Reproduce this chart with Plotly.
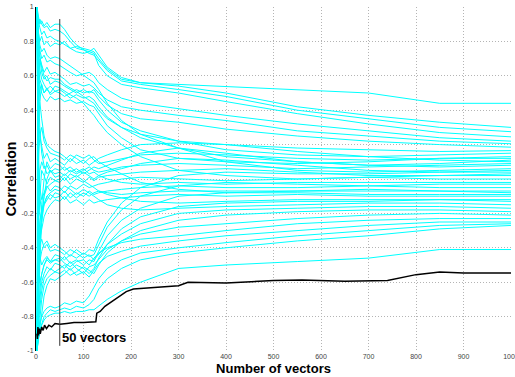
import plotly.graph_objects as go

# Shared sample positions (number of vectors)
X_SAMPLES = [2, 3, 5, 8, 12, 17, 23, 30, 40, 50, 60, 72, 85, 100, 112, 122, 132,
             150, 180, 220, 300, 400, 550, 700, 850, 1000]

# Upper cluster
U1 = [1.0, 0.95, 0.92, 0.88, 0.84, 0.86, 0.82, 0.83, 0.81, 0.80, 0.78, 0.76, 0.77, 0.76, 0.75, 0.74, 0.70, 0.64, 0.58, 0.56, 0.55, 0.54, 0.52, 0.50, 0.44, 0.44]
U2 = [1.0, 0.97, 0.90, 0.93, 0.90, 0.88, 0.89, 0.86, 0.87, 0.86, 0.84, 0.80, 0.76, 0.75, 0.74, 0.76, 0.72, 0.65, 0.59, 0.56, 0.54, 0.50, 0.42, 0.37, 0.33, 0.30]
U3 = [1.0, 0.98, 0.94, 0.90, 0.92, 0.89, 0.91, 0.88, 0.90, 0.90, 0.87, 0.82, 0.78, 0.75, 0.73, 0.72, 0.69, 0.63, 0.57, 0.55, 0.52, 0.48, 0.40, 0.35, 0.30, 0.275]
U4 = [1.0, 0.90, 0.85, 0.80, 0.83, 0.78, 0.80, 0.77, 0.79, 0.78, 0.80, 0.76, 0.74, 0.73, 0.74, 0.73, 0.66, 0.60, 0.55, 0.53, 0.50, 0.45, 0.38, 0.32, 0.27, 0.245]
U5 = [1.0, 0.93, 0.82, 0.75, 0.70, 0.72, 0.68, 0.69, 0.67, 0.66, 0.64, 0.62, 0.60, 0.61, 0.62, 0.60, 0.56, 0.52, 0.47, 0.44, 0.41, 0.37, 0.32, 0.28, 0.24, 0.22]
U6 = [1.0, 0.85, 0.78, 0.70, 0.66, 0.62, 0.65, 0.61, 0.62, 0.60, 0.58, 0.55, 0.56, 0.54, 0.55, 0.53, 0.50, 0.46, 0.42, 0.40, 0.37, 0.34, 0.28, 0.25, 0.22, 0.205]
U7 = [-1.0, 0.2, 0.55, 0.70, 0.62, 0.58, 0.60, 0.55, 0.57, 0.56, 0.54, 0.52, 0.50, 0.52, 0.50, 0.52, 0.48, 0.43, 0.38, 0.35, 0.33, 0.29, 0.25, 0.22, 0.20, 0.185]
U8 = [1.0, 0.88, 0.72, 0.64, 0.58, 0.55, 0.52, 0.54, 0.51, 0.52, 0.50, 0.47, 0.49, 0.47, 0.48, 0.46, 0.42, 0.36, 0.30, 0.26, 0.22, 0.20, 0.18, 0.17, 0.16, 0.165]
U9 = [1.0, 0.80, 0.66, 0.58, 0.54, 0.50, 0.53, 0.49, 0.51, 0.50, 0.48, 0.50, 0.52, 0.50, 0.51, 0.50, 0.46, 0.40, 0.33, 0.28, 0.22, 0.17, 0.14, 0.13, 0.14, 0.15]
U10 = [1.0, 0.75, 0.60, 0.55, 0.50, 0.47, 0.45, 0.48, 0.46, 0.47, 0.45, 0.46, 0.44, 0.45, 0.43, 0.42, 0.38, 0.31, 0.24, 0.17, 0.12, 0.10, 0.09, 0.10, 0.12, 0.13]
U11 = [1.0, 0.92, 0.80, 0.72, 0.65, 0.60, 0.57, 0.59, 0.58, 0.58, 0.55, 0.53, 0.51, 0.48, 0.46, 0.44, 0.40, 0.35, 0.30, 0.24, 0.18, 0.13, 0.10, 0.08, 0.09, 0.11]
U12 = [1.0, 0.94, 0.86, 0.78, 0.74, 0.76, 0.72, 0.70, 0.71, 0.70, 0.68, 0.66, 0.63, 0.60, 0.58, 0.56, 0.52, 0.44, 0.34, 0.26, 0.18, 0.10, 0.05, 0.04, 0.05, 0.06]
U13 = [-1.0, -0.3, 0.3, 0.45, 0.55, 0.50, 0.52, 0.50, 0.54, 0.53, 0.51, 0.49, 0.47, 0.44, 0.40, 0.37, 0.33, 0.27, 0.20, 0.13, 0.05, 0.02, 0.00, 0.01, 0.02, 0.03]

# Middle cluster
M1 = [1.0, 0.6, 0.35, 0.25, 0.18, 0.12, 0.15, 0.10, 0.12, 0.10, 0.08, 0.12, 0.09, 0.11, 0.08, 0.10, 0.12, 0.14, 0.17, 0.20, 0.21, 0.20, 0.16, 0.13, 0.11, 0.10]
M2 = [-1.0, -0.6, -0.2, 0.05, 0.10, 0.06, 0.08, 0.04, 0.06, 0.05, 0.07, 0.04, 0.06, 0.03, 0.05, 0.07, 0.06, 0.08, 0.11, 0.15, 0.18, 0.15, 0.10, 0.08, 0.07, 0.08]
M3 = [1.0, 0.85, 0.5, 0.3, 0.15, 0.08, 0.03, 0.05, 0.01, 0.02, -0.01, 0.03, 0.01, 0.04, 0.02, 0.00, 0.02, 0.04, 0.06, 0.09, 0.12, 0.11, 0.08, 0.05, 0.04, 0.05]
M4 = [-1.0, -0.85, -0.55, -0.35, -0.2, -0.1, -0.05, -0.03, -0.01, -0.02, 0.01, -0.03, 0.00, -0.02, 0.01, -0.01, 0.01, 0.02, 0.03, 0.04, 0.05, 0.06, 0.04, 0.02, 0.02, 0.02]
M5 = [1.0, 0.4, 0.1, -0.05, -0.12, -0.08, -0.04, -0.07, -0.04, -0.05, -0.08, -0.04, -0.06, -0.03, -0.05, -0.04, -0.03, -0.02, 0.00, 0.01, 0.00, -0.01, 0.00, 0.01, 0.00, 0.00]
M6 = [-1.0, -0.9, -0.7, -0.4, -0.15, 0.0, 0.10, 0.06, 0.09, 0.08, 0.05, 0.07, 0.04, 0.06, 0.03, 0.04, 0.02, 0.00, -0.02, -0.03, -0.02, -0.03, -0.02, -0.02, -0.02, -0.02]
M7 = [1.0, 0.7, 0.2, -0.1, -0.2, -0.15, -0.12, -0.09, -0.11, -0.10, -0.07, -0.11, -0.08, -0.10, -0.07, -0.09, -0.08, -0.07, -0.06, -0.05, -0.04, -0.05, -0.05, -0.04, -0.05, -0.05]
M8 = [-1.0, -0.4, 0.1, 0.25, 0.3, 0.22, 0.18, 0.15, 0.14, 0.13, 0.11, 0.14, 0.12, 0.09, 0.12, 0.13, 0.10, 0.07, 0.03, -0.02, -0.06, -0.08, -0.07, -0.06, -0.07, -0.08]
M9 = [1.0, 0.3, -0.2, -0.35, -0.3, -0.22, -0.18, -0.15, -0.12, -0.13, -0.10, -0.14, -0.12, -0.15, -0.12, -0.14, -0.13, -0.12, -0.11, -0.10, -0.09, -0.10, -0.09, -0.10, -0.10, -0.10]
M10 = [-1.0, -0.7, -0.3, -0.1, 0.05, 0.02, -0.03, 0.01, -0.01, 0.00, 0.03, 0.00, 0.02, -0.01, -0.03, -0.05, -0.07, -0.09, -0.11, -0.13, -0.14, -0.13, -0.12, -0.12, -0.12, -0.12]
M11 = [1.0, 0.5, 0.0, -0.2, -0.25, -0.15, -0.10, -0.08, -0.06, -0.07, -0.04, -0.06, -0.09, -0.06, -0.08, -0.10, -0.12, -0.15, -0.17, -0.18, -0.17, -0.16, -0.15, -0.14, -0.14, -0.15]
M12 = [-1.0, -0.95, -0.8, -0.5, -0.25, -0.1, 0.0, 0.05, 0.03, 0.04, 0.02, 0.05, 0.03, 0.05, 0.07, 0.05, 0.04, 0.05, 0.07, 0.08, 0.09, 0.08, 0.06, 0.07, 0.08, 0.09]
M13 = [1.0, 0.9, 0.6, 0.45, 0.35, 0.25, 0.20, 0.18, 0.16, 0.15, 0.13, 0.10, 0.14, 0.12, 0.14, 0.11, 0.09, 0.10, 0.12, 0.14, 0.15, 0.14, 0.12, 0.11, 0.12, 0.12]
M14 = [-1.0, -0.5, -0.35, -0.25, -0.18, -0.14, -0.10, -0.12, -0.08, -0.09, -0.12, -0.08, -0.11, -0.08, -0.10, -0.08, -0.07, -0.08, -0.09, -0.08, -0.07, -0.07, -0.07, -0.07, -0.07, -0.07]

# Lower cluster
B1 = [-1.0, -0.9, -0.8, -0.65, -0.55, -0.5, -0.46, -0.48, -0.44, -0.45, -0.47, -0.44, -0.46, -0.43, -0.45, -0.44, -0.38, -0.28, -0.18, -0.10, -0.04, -0.02, -0.03, -0.04, -0.03, -0.03]
B2 = [1.0, 0.2, -0.4, -0.6, -0.55, -0.5, -0.47, -0.49, -0.47, -0.48, -0.45, -0.49, -0.47, -0.50, -0.47, -0.48, -0.42, -0.33, -0.24, -0.17, -0.10, -0.08, -0.08, -0.09, -0.09, -0.09]
B3 = [-1.0, -0.95, -0.85, -0.75, -0.65, -0.58, -0.55, -0.52, -0.54, -0.52, -0.50, -0.53, -0.50, -0.52, -0.55, -0.52, -0.46, -0.38, -0.29, -0.22, -0.16, -0.14, -0.13, -0.13, -0.12, -0.13]
B4 = [-1.0, -0.7, -0.5, -0.38, -0.35, -0.4, -0.38, -0.42, -0.41, -0.42, -0.44, -0.41, -0.43, -0.46, -0.44, -0.47, -0.44, -0.38, -0.32, -0.26, -0.20, -0.18, -0.17, -0.16, -0.16, -0.17]
B5 = [-1.0, -0.97, -0.9, -0.8, -0.7, -0.62, -0.58, -0.56, -0.54, -0.55, -0.53, -0.56, -0.54, -0.51, -0.53, -0.55, -0.50, -0.43, -0.36, -0.30, -0.24, -0.21, -0.19, -0.18, -0.18, -0.19]
B6 = [-1.0, -0.92, -0.82, -0.7, -0.6, -0.55, -0.51, -0.53, -0.49, -0.50, -0.52, -0.48, -0.52, -0.55, -0.51, -0.50, -0.47, -0.41, -0.36, -0.32, -0.28, -0.26, -0.23, -0.21, -0.20, -0.21]
B7 = [1.0, 0.5, -0.2, -0.45, -0.5, -0.47, -0.45, -0.48, -0.47, -0.46, -0.49, -0.51, -0.48, -0.47, -0.50, -0.46, -0.43, -0.40, -0.37, -0.35, -0.33, -0.30, -0.26, -0.24, -0.23, -0.23]
B8 = [-1.0, -0.98, -0.94, -0.88, -0.78, -0.68, -0.62, -0.58, -0.59, -0.57, -0.55, -0.52, -0.56, -0.54, -0.57, -0.53, -0.49, -0.45, -0.42, -0.39, -0.36, -0.33, -0.30, -0.27, -0.25, -0.25]
B9 = [-1.0, -0.8, -0.6, -0.48, -0.42, -0.38, -0.36, -0.40, -0.38, -0.40, -0.42, -0.45, -0.41, -0.44, -0.41, -0.42, -0.35, -0.25, -0.14, -0.05, 0.02, 0.04, 0.03, 0.03, 0.04, 0.04]

# Lowest cyan group
L1 = [-1.0, -0.95, -0.92, -0.9, -0.85, -0.82, -0.8, -0.79, -0.78, -0.78, -0.77, -0.78, -0.77, -0.77, -0.76, -0.76, -0.74, -0.70, -0.65, -0.60, -0.52, -0.50, -0.48, -0.46, -0.41, -0.41]
L2 = [-1.0, -0.97, -0.93, -0.88, -0.84, -0.80, -0.78, -0.76, -0.77, -0.76, -0.75, -0.76, -0.74, -0.75, -0.73, -0.70, -0.64, -0.58, -0.52, -0.47, -0.43, -0.40, -0.36, -0.33, -0.29, -0.27]
L3 = [-1.0, -0.92, -0.88, -0.84, -0.8, -0.77, -0.75, -0.74, -0.75, -0.74, -0.72, -0.73, -0.71, -0.72, -0.68, -0.63, -0.58, -0.52, -0.47, -0.43, -0.40, -0.37, -0.33, -0.30, -0.27, -0.26]

CYAN_SERIES = [U1, U2, U3, U4, U5, U6, U7, U8, U9, U10, U11, U12, U13,
               M1, M2, M3, M4, M5, M6, M7, M8, M9, M10, M11, M12, M13, M14,
               B1, B2, B3, B4, B5, B6, B7, B8, B9, L1, L2, L3]

# Highlighted (black) series
BLACK_X = [2, 3, 4, 5, 7, 9, 12, 15, 18, 22, 27, 33, 40, 50, 65, 80, 100, 115, 126, 128,
           135, 145, 160, 175, 190, 205, 250, 300, 320, 400, 500, 560, 650, 740, 800, 850, 900, 1000]
BLACK_Y = [-0.90, -0.93, -0.86, -0.91, -0.87, -0.90, -0.86, -0.88, -0.85, -0.87, -0.85, -0.86, -0.84,
           -0.845, -0.84, -0.835, -0.835, -0.83, -0.83, -0.78, -0.77, -0.74, -0.71, -0.68, -0.655,
           -0.64, -0.63, -0.62, -0.60, -0.605, -0.59, -0.587, -0.594, -0.59, -0.556, -0.54, -0.547, -0.547]

# Marker line at 50 vectors
VLINE_X = [50, 50]
VLINE_Y = [0.93, -0.97]

X_TICKS = [0, 100, 200, 300, 400, 500, 600, 700, 800, 900, 1000]
X_TICK_LABELS = ["0", "100", "200", "300", "400", "500", "600", "700", "800", "900", "1000"]
Y_TICKS = [1, 0.8, 0.6, 0.4, 0.2, 0, -0.2, -0.4, -0.6, -0.8, -1]
Y_TICK_LABELS = ["1", "0.8", "0.6", "0.4", "0.2", "0", "-0.2", "-0.4", "-0.6", "-0.8", "-1"]

fig = go.Figure()
for ys in CYAN_SERIES:
    fig.add_trace(go.Scatter(x=X_SAMPLES, y=ys, mode="lines",
                             line=dict(color="#00FFFF", width=1), hoverinfo="skip"))
fig.add_trace(go.Scatter(x=BLACK_X, y=BLACK_Y, mode="lines",
                         line=dict(color="black", width=1.5), hoverinfo="skip"))
fig.add_trace(go.Scatter(x=VLINE_X, y=VLINE_Y, mode="lines",
                         line=dict(color="#333333", width=1), hoverinfo="skip"))

fig.add_annotation(x=50, y=-0.92, text="<b>50 vectors</b>", showarrow=False,
                   xanchor="left", yanchor="middle", xshift=0,
                   font=dict(family="Liberation Sans, Arial", size=13, color="black"))

fig.update_layout(
    width=515, height=377,
    margin=dict(l=36, r=4, t=7, b=26),
    paper_bgcolor="white", plot_bgcolor="white",
    showlegend=False,
    font=dict(family="Liberation Sans, Arial", color="#333333"),
)
fig.update_xaxes(
    range=[0, 1000], tickvals=X_TICKS, ticktext=X_TICK_LABELS, automargin=False,
    tickfont=dict(size=7, color="#444444"), ticklabeloverflow="allow",
    showgrid=True, gridcolor="#b4b4b4", griddash="1px,2px", gridwidth=1,
    zeroline=False, showline=False, ticks="", ticklen=0,
    title=dict(text="<b>Number of vectors</b>", font=dict(size=13, color="black"), standoff=4),
)
fig.update_yaxes(
    range=[-1, 1], tickvals=Y_TICKS, ticktext=Y_TICK_LABELS, automargin=False,
    tickfont=dict(size=7, color="#444444"),
    showgrid=True, gridcolor="#b4b4b4", griddash="1px,2px", gridwidth=1,
    zeroline=False, showline=True, linecolor="black", linewidth=1,
    layer="below traces", ticks="",
    title=dict(text="<b>Correlation</b>", font=dict(size=14, color="black"), standoff=1),
)

fig.write_html("out.html")
